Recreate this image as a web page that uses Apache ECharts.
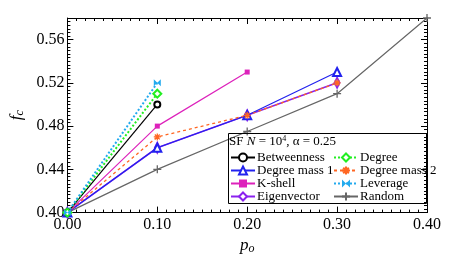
<!DOCTYPE html>
<html><head><meta charset="utf-8">
<script src="https://cdn.jsdelivr.net/npm/echarts@6/dist/echarts.min.js"></script>
<style>html,body{margin:0;padding:0;background:#fff}#c{width:463px;height:260px}</style>
</head><body><div id="c"></div>
<script>
var xTicks = [0.0, 0.1, 0.2, 0.3, 0.4];
var yTicks = [0.40, 0.44, 0.48, 0.52, 0.56];
var names = ['Betweenness','Degree','Degree mass 1','Degree mass 2','K-shell','Leverage','Eigenvector','Random'];
var betweennessX = [0, 0.1];           var betweennessY = [0.40, 0.50];
var degreeX = [0, 0.1];                var degreeY = [0.40, 0.51];
var leverageX = [0, 0.1];              var leverageY = [0.40, 0.52];
var kshellX = [0, 0.1, 0.2];           var kshellY = [0.40, 0.48, 0.53];
var dm2X = [0, 0.1, 0.2, 0.3];         var dm2Y = [0.40, 0.47, 0.49, 0.52];
var dm1X = [0, 0.1, 0.2, 0.3];         var dm1Y = [0.40, 0.46, 0.49, 0.53];
var eigX = [0, 0.1, 0.2, 0.3];         var eigY = [0.40, 0.46, 0.49, 0.52];
var randomX = [0, 0.1, 0.2, 0.3, 0.4]; var randomY = [0.40, 0.44, 0.475, 0.51, 0.58];

function pairs(xs, ys){ return xs.map(function(x,i){return [x, ys[i]];}); }
var F = 'Liberation Serif';
var plusPath = 'path://M5,0L5,10M0,5L10,5';
var starPath = 'path://M5,0L5,10M0,5L10,5M1.5,1.5L8.5,8.5M8.5,1.5L1.5,8.5';
var bowPath = 'path://M0,0L10,10L10,0L0,10Z';

function S(name, xs, ys, color, type, width, symbol, size, bw){
  return {
    name: name, type: 'line', data: pairs(xs, ys), xAxisIndex: 0, yAxisIndex: 0,
    symbol: symbol, symbolSize: size, showSymbol: true,
    lineStyle: {color: color, width: width, type: type},
    itemStyle: {color: color, borderColor: color, borderWidth: bw == null ? 1.3 : bw},
    emphasis: {disabled: true}, animation: false
  };
}
var series = [
  S('Random', randomX, randomY, '#666666', 'solid', 1.2, plusPath, 8),
  S('Eigenvector', eigX, eigY, '#8a22ee', 'solid', 1.6, 'emptyDiamond', [5,10], 1.5),
  S('Degree mass 1', dm1X, dm1Y, '#2222ee', 'solid', 1.2, 'emptyTriangle', 8, 1.3),
  S('Degree mass 2', dm2X, dm2Y, '#ff6622', [3,3], 1.3, starPath, 7),
  S('K-shell', kshellX, kshellY, '#dd22bb', 'solid', 1.2, 'rect', 5, 0),
  S('Betweenness', betweennessX, betweennessY, '#000000', 'solid', 1.2, 'emptyCircle', 6, 1.3),
  S('Degree', degreeX, degreeY, '#22ee22', [2,2], 2, 'emptyDiamond', 8, 1.5),
  S('Leverage', leverageX, leverageY, '#22aaee', [2,2], 2, bowPath, 7, 0)
];

var axisCommon = {
  axisLine: {show: true, onZero: false, lineStyle: {color: '#000', width: 1}},
  axisTick: {show: true, inside: true, length: 6, lineStyle: {color: '#000'}},
  minorTick: {show: true, splitNumber: 10, length: 3, lineStyle: {color: '#000'}},
  splitLine: {show: false}
};
function xa(pos, labels){
  return Object.assign({type: 'value', min: 0, max: 0.4, interval: 0.1, position: pos,
    axisLabel: {show: labels, color: '#000', fontFamily: F, fontSize: 16, margin: 4,
      formatter: function(v){return v.toFixed(2);}},
    name: labels ? '{i|p}{s|o}' : '', nameLocation: 'middle', nameGap: 24,
    nameTextStyle: {rich: {i:{fontFamily:F,fontStyle:'italic',fontSize:17,color:'#000'}, s:{fontFamily:F,fontStyle:'italic',fontSize:12,color:'#000',verticalAlign:'bottom',padding:[6,0,0,0]}}}
  }, axisCommon);
}
function ya(pos, labels){
  return Object.assign({type: 'value', min: 0.40, max: 0.58, interval: 0.04, position: pos,
    axisLabel: {show: labels, color: '#000', fontFamily: F, fontSize: 16, margin: 3,
      formatter: function(v){return v >= 0.579 ? '' : v.toFixed(2);}},
    name: labels ? '{i|f}{s|c}' : '', nameLocation: 'middle', nameGap: 36,
    nameTextStyle: {rich: {i:{fontFamily:F,fontStyle:'italic',fontSize:17,color:'#000'}, s:{fontFamily:F,fontStyle:'italic',fontSize:12,color:'#000',padding:[6,0,0,0]}}}
  }, axisCommon, {minorTick: {show: true, splitNumber: 12, length: 3, lineStyle: {color: '#000'}}});
}

var legendCommon = {
  orient: 'vertical', itemWidth: 24, itemHeight: 10, itemGap: 0,
  textStyle: {fontFamily: F, fontSize: 13, lineHeight: 13, color: '#000', padding: [0,0,0,-3]},
  inactiveColor: '#ccc', selectedMode: false, padding: 0
};

var chart = echarts.init(document.getElementById('c'), null, {renderer: 'canvas'});
chart.setOption({
  backgroundColor: '#fff',
  animation: false,
  grid: {left: 51, right: 36, top: 18, bottom: 45, containLabel: false},
  xAxis: [xa('bottom', true), xa('top', false)],
  yAxis: [ya('left', true), ya('right', false)],
  legend: [
    Object.assign({data: ['Betweenness','Degree mass 1','K-shell','Eigenvector'], left: 230, top: 151}, legendCommon),
    Object.assign({data: ['Degree','Degree mass 2','Leverage','Random'], left: 333, top: 151}, legendCommon)
  ],
  graphic: [
    {type: 'rect', shape: {x: 228.5, y: 133.5, width: 198, height: 70}, style: {fill: 'none', stroke: '#000', lineWidth: 1}, z: 100},
    {type: 'text', left: 229, top: 135, z: 101, style: {
      text: '{a|SF }{n|N}{a| = 10}{p|4}{a|, α = 0.25}',
      rich: {a:{fontFamily:F,fontSize:13,fill:'#000'}, n:{fontFamily:F,fontStyle:'italic',fontSize:13,fill:'#000'}, p:{fontFamily:F,fontSize:8,fill:'#000',verticalAlign:'top',padding:[0,0,6,0]}}
    }}
  ],
  series: series
});
</script></body></html>
